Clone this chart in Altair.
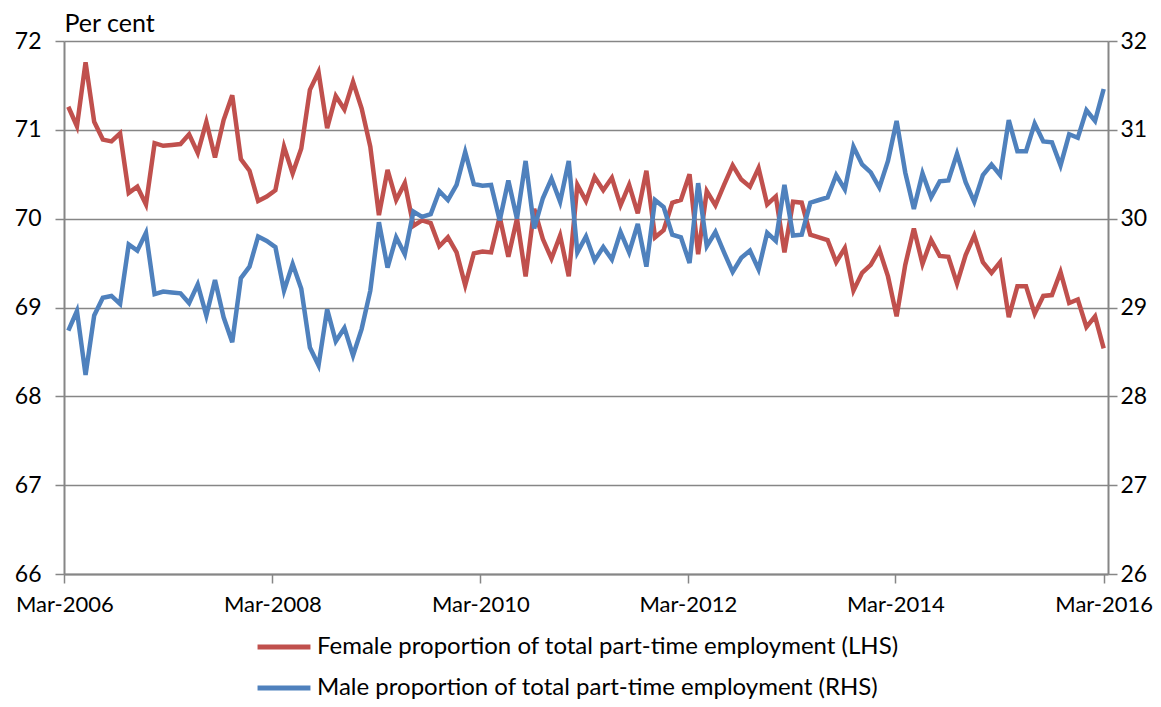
import altair as alt
import pandas as pd

FEMALE_LABEL = "Female proportion of total part-time employment (LHS)"
MALE_LABEL = "Male proportion of total part-time employment (RHS)"

# Monthly values, Mar-2006 ... Mar-2016 (121 months)
female = [
    71.26, 71.04, 71.76, 71.09, 70.89, 70.87, 70.96, 70.29, 70.36, 70.16,
    70.85, 70.82, 70.83, 70.84, 70.95, 70.74, 71.09, 70.69, 71.11, 71.39,
    70.67, 70.54, 70.20, 70.25, 70.32, 70.81, 70.51, 70.79, 71.45, 71.65,
    71.02, 71.38, 71.23, 71.54, 71.24, 70.81, 70.04, 70.55, 70.21, 70.40,
    69.92, 69.98, 69.95, 69.69, 69.79, 69.62, 69.25, 69.61, 69.63, 69.62,
    70.02, 69.57, 70.00, 69.35, 70.11, 69.77, 69.55, 69.81, 69.35, 70.38,
    70.20, 70.47, 70.32, 70.46, 70.15, 70.38, 70.06, 70.54, 69.79, 69.87,
    70.18, 70.21, 70.50, 69.60, 70.31, 70.15, 70.38, 70.60, 70.44, 70.36,
    70.57, 70.16, 70.25, 69.62, 70.19, 70.18, 69.82, 69.79, 69.76, 69.51,
    69.67, 69.19, 69.39, 69.48, 69.65, 69.35, 68.90, 69.48, 69.89, 69.49,
    69.76, 69.58, 69.57, 69.27, 69.59, 69.81, 69.51, 69.39, 69.51, 68.89,
    69.24, 69.24, 68.93, 69.13, 69.14, 69.40, 69.05, 69.09, 68.78, 68.90,
    68.54,
]

male = [
    28.74, 28.96, 28.24, 28.91, 29.11, 29.13, 29.04, 29.71, 29.64, 29.84,
    29.15, 29.18, 29.17, 29.16, 29.05, 29.26, 28.91, 29.31, 28.89, 28.61,
    29.33, 29.46, 29.80, 29.75, 29.68, 29.19, 29.49, 29.21, 28.55, 28.35,
    28.98, 28.62, 28.77, 28.46, 28.76, 29.19, 29.96, 29.45, 29.79, 29.60,
    30.08, 30.02, 30.05, 30.31, 30.21, 30.38, 30.75, 30.39, 30.37, 30.38,
    29.98, 30.43, 30.00, 30.65, 29.89, 30.23, 30.45, 30.19, 30.65, 29.62,
    29.80, 29.53, 29.68, 29.54, 29.85, 29.62, 29.94, 29.46, 30.21, 30.13,
    29.82, 29.79, 29.50, 30.40, 29.69, 29.85, 29.62, 29.40, 29.56, 29.64,
    29.43, 29.84, 29.75, 30.38, 29.81, 29.82, 30.18, 30.21, 30.24, 30.49,
    30.33, 30.81, 30.61, 30.52, 30.35, 30.65, 31.10, 30.52, 30.11, 30.51,
    30.24, 30.42, 30.43, 30.73, 30.41, 30.19, 30.49, 30.61, 30.49, 31.11,
    30.76, 30.76, 31.07, 30.87, 30.86, 30.60, 30.95, 30.91, 31.22, 31.10,
    31.46,
]

x_tick_values = [-0.45, 23.65, 47.75, 71.8, 95.85, 120.0]
x_tick_labels = ["Mar-2006", "Mar-2008", "Mar-2010", "Mar-2012", "Mar-2014", "Mar-2016"]
left_ticks = [66, 67, 68, 69, 70, 71, 72]
right_ticks = [26, 27, 28, 29, 30, 31, 32]

RED = "#C0504D"
BLUE = "#4F81BD"
GRID = "#868686"
FONT = "Lato"

df_f = pd.DataFrame({"idx": list(range(len(female))), "value": female, "series": FEMALE_LABEL})
df_m = pd.DataFrame({"idx": list(range(len(male))), "value": male, "series": MALE_LABEL})

label_expr = (
    "datum.value < 12 ? '" + x_tick_labels[0] + "' : "
    "datum.value < 36 ? '" + x_tick_labels[1] + "' : "
    "datum.value < 60 ? '" + x_tick_labels[2] + "' : "
    "datum.value < 84 ? '" + x_tick_labels[3] + "' : "
    "datum.value < 108 ? '" + x_tick_labels[4] + "' : '" + x_tick_labels[5] + "'"
)

x_enc = alt.X(
    "idx:Q",
    scale=alt.Scale(domain=[-0.5, 120.5], nice=False, zero=False),
    axis=alt.Axis(
        values=x_tick_values,
        labelExpr=label_expr,
        grid=False,
        domainColor=GRID,
        domainWidth=2,
        tickColor=GRID,
        tickWidth=1.5,
        tickSize=9,
        labelPadding=11,
        labelFont=FONT,
        labelFontSize=22,
        labelColor="#000000",
        labelFlush=False,
        labelOverlap=False,
    ),
    title=None,
)

color_enc = alt.Color(
    "series:N",
    scale=alt.Scale(domain=[FEMALE_LABEL, MALE_LABEL], range=[RED, BLUE]),
    legend=alt.Legend(
        orient="none",
        legendX=191,
        legendY=577,
        direction="vertical",
        title=None,
        symbolType="stroke",
        symbolSize=2800,
        symbolStrokeWidth=5,
        labelFont=FONT,
        labelFontSize=24,
        labelColor="#000000",
        labelLimit=0,
        labelOffset=4,
        rowPadding=-10,
    ),
)

female_line = alt.Chart(df_f).mark_line(strokeWidth=4.5).encode(
    x=x_enc,
    y=alt.Y(
        "value:Q",
        scale=alt.Scale(domain=[66, 72], nice=False, zero=False),
        axis=alt.Axis(
            orient="left",
            values=left_ticks,
            format="d",
            grid=True,
            gridColor=GRID,
            gridWidth=1.5,
            domainColor=GRID,
            domainWidth=2,
            tickColor=GRID,
            tickWidth=1.5,
            tickSize=9,
            labelPadding=14,
            labelFont=FONT,
            labelFontSize=23,
            labelColor="#000000",
            title="Per cent",
            titleAngle=0,
            titleAlign="left",
            titleBaseline="bottom",
            titleX=0,
            titleY=-5,
            titleFont=FONT,
            titleFontSize=25,
            titleFontWeight="normal",
            titleColor="#000000",
        ),
    ),
    color=color_enc,
)

male_line = alt.Chart(df_m).mark_line(strokeWidth=4.5).encode(
    x=x_enc,
    y=alt.Y(
        "value:Q",
        scale=alt.Scale(domain=[26, 32], nice=False, zero=False),
        axis=alt.Axis(
            orient="right",
            values=right_ticks,
            format="d",
            grid=False,
            domainColor=GRID,
            domainWidth=2,
            tickColor=GRID,
            tickWidth=1.5,
            tickSize=9,
            labelPadding=3,
            labelFont=FONT,
            labelFontSize=23,
            labelColor="#000000",
        ),
        title=None,
    ),
    color=color_enc,
)

chart = (
    alt.layer(female_line, male_line)
    .resolve_scale(y="independent")
    .properties(
        width=1044,
        height=533,
        autosize=alt.AutoSizeParams(type="none"),
        padding={"left": 56, "top": 33, "right": 45, "bottom": 125},
        background="white",
    )
    .configure_view(strokeWidth=0)
)

chart.save("out.html", embed_options={"renderer": "svg", "actions": False})
